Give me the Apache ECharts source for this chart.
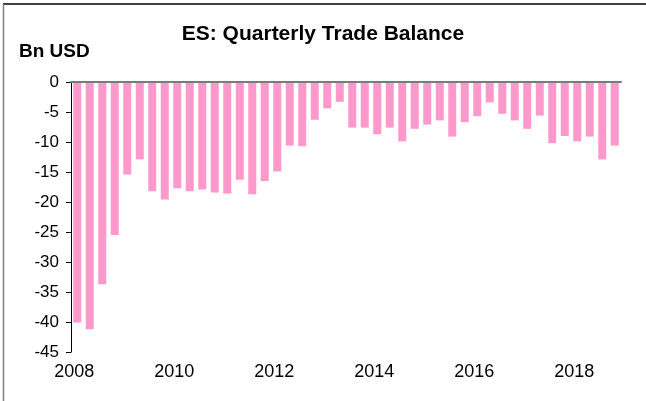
<!DOCTYPE html>
<html>
<head>
<meta charset="UTF-8">
<title>ES: Quarterly Trade Balance</title>
<script src="https://cdn.jsdelivr.net/npm/echarts@6/dist/echarts.min.js"></script>
<style>
  html, body { margin: 0; padding: 0; background: #fff; }
  #main { width: 646px; height: 401px; }
</style>
</head>
<body>
<div id="main"></div>
<script>
    // quarters 2008Q1 .. 2018Q4
    var quarters = [
        '2008Q1','2008Q2','2008Q3','2008Q4','2009Q1','2009Q2','2009Q3','2009Q4',
        '2010Q1','2010Q2','2010Q3','2010Q4','2011Q1','2011Q2','2011Q3','2011Q4',
        '2012Q1','2012Q2','2012Q3','2012Q4','2013Q1','2013Q2','2013Q3','2013Q4',
        '2014Q1','2014Q2','2014Q3','2014Q4','2015Q1','2015Q2','2015Q3','2015Q4',
        '2016Q1','2016Q2','2016Q3','2016Q4','2017Q1','2017Q2','2017Q3','2017Q4',
        '2018Q1','2018Q2','2018Q3','2018Q4'
    ];
    // trade balance, bn USD
    var balance = [
        -40.1, -41.2, -33.7, -25.5, -15.4, -12.9, -18.2, -19.6,
        -17.7, -18.2, -17.9, -18.4, -18.6, -16.3, -18.7, -16.5,
        -14.9, -10.6, -10.7, -6.3, -4.4, -3.3, -7.6, -7.6,
        -8.7, -7.6, -9.9, -7.8, -7.1, -6.4, -9.1, -6.7,
        -5.7, -3.4, -5.3, -6.4, -7.8, -5.6, -10.2, -9.0,
        -9.9, -9.1, -12.9, -10.6
    ];
    var yTicks = [0, -5, -10, -15, -20, -25, -30, -35, -40, -45];

    var font = 'Liberation Sans, Arial, sans-serif';
    var chart = echarts.init(document.getElementById('main'));
    var option = {
        animation: false,
        backgroundColor: '#fff',
        title: {
            text: 'ES: Quarterly Trade Balance',
            left: 'center',
            top: 19,
            textStyle: { fontFamily: font, fontSize: 21, fontWeight: 'bold', color: '#000' }
        },
        graphic: [
            { type: 'line', shape: { x1: 3, y1: 4, x2: 646, y2: 4 }, style: { stroke: '#000', lineWidth: 1.5 } },
            { type: 'line', shape: { x1: 3.5, y1: 4, x2: 3.5, y2: 401 }, style: { stroke: '#808080', lineWidth: 1.5 } },
            { type: 'text', left: 19, top: 42, style: { text: 'Bn USD', font: 'bold 19px ' + font, fill: '#000' } }
        ],
        grid: { left: 71, top: 82, right: 25, bottom: 49 },
        xAxis: [
            {
                type: 'category',
                data: quarters,
                position: 'bottom',
                axisLine: { show: false },
                axisTick: { show: false },
                axisLabel: {
                    interval: 7,
                    margin: 11,
                    padding: [0, 6, 0, 0],
                    fontFamily: font,
                    fontSize: 18,
                    color: '#000',
                    formatter: function (v) { return v.slice(0, 4); }
                }
            },
            {
                type: 'category',
                data: quarters,
                position: 'top',
                z: 5,
                axisLine: { onZero: false, lineStyle: { color: '#7a7a7a', width: 2 } },
                axisTick: { inside: true, interval: 3, length: 5, lineStyle: { color: '#222', width: 1.5 } },
                axisLabel: { show: false }
            }
        ],
        yAxis: {
            type: 'value',
            min: -45,
            max: 0,
            interval: 5,
            axisLine: { show: true, lineStyle: { color: '#000', width: 1 } },
            axisTick: { show: true, length: 5, lineStyle: { color: '#000' } },
            splitLine: { show: false },
            axisLabel: {
                margin: 12,
                fontFamily: font,
                fontSize: 17,
                color: '#000',
                formatter: function (v) { return yTicks.indexOf(v) >= 0 ? String(v) : ''; }
            }
        },
        series: [{
            type: 'bar',
            xAxisIndex: 0,
            data: balance,
            barWidth: 8,
            itemStyle: { color: '#ff99cc' }
        }]
    };
    chart.setOption(option);
</script>
</body>
</html>
